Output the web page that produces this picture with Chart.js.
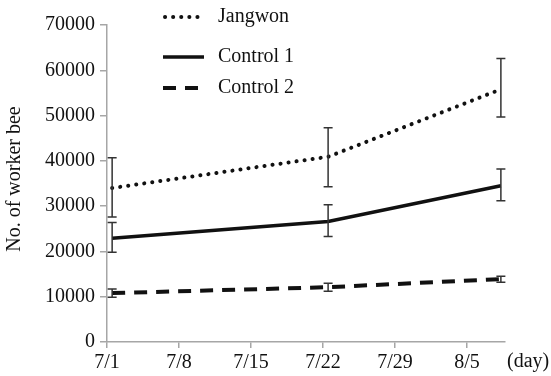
<!DOCTYPE html>
<html>
<head>
<meta charset="utf-8">
<script src="https://cdn.jsdelivr.net/npm/chart.js@4"></script>
<style>
  html, body { margin: 0; padding: 0; background: #fff; }
  #wrap { width: 551px; height: 376px; }
</style>
</head>
<body>
<div id="wrap"><canvas id="chart"></canvas></div>
<script>
"use strict";

// days since 7/1 of each survey
var days = [0.5, 21.5, 38.3];
var tickLabels = ["7/1", "7/8", "7/15", "7/22", "7/29", "8/5"];

var jangwon = [34000, 40900, 55800];
var jangwonLow = [27600, 34300, 49700];
var jangwonHigh = [40700, 47300, 62600];

var control1 = [22900, 26600, 34500];
var control1Low = [19800, 23300, 31200];
var control1High = [26400, 30300, 38200];

var control2 = [10800, 12100, 13900];
var control2Low = [9900, 11200, 13200];
var control2High = [11700, 13000, 14500];

var FONT = "'Liberation Serif', 'Times New Roman', serif";
var AXIS = "#a6a6a6";
var INK = "#111";

function pts(vals) {
  return vals.map(function (v, i) { return { x: days[i], y: v }; });
}

var errorBars = {
  id: "errorBars",
  afterDatasetsDraw: function (chart) {
    var ctx = chart.ctx;
    var xs = chart.scales.x, ys = chart.scales.y;
    ctx.save();
    ctx.strokeStyle = "#333";
    ctx.lineWidth = 1.5;
    chart.data.datasets.forEach(function (ds) {
      ds.low.forEach(function (lo, i) {
        var x = xs.getPixelForValue(days[i]);
        var y1 = ys.getPixelForValue(lo), y2 = ys.getPixelForValue(ds.high[i]);
        ctx.beginPath();
        ctx.moveTo(x, y1); ctx.lineTo(x, y2);
        ctx.moveTo(x - 4.5, y1); ctx.lineTo(x + 4.5, y1);
        ctx.moveTo(x - 4.5, y2); ctx.lineTo(x + 4.5, y2);
        ctx.stroke();
      });
    });
    ctx.restore();
  }
};

var extras = {
  id: "extras",
  afterDraw: function (chart) {
    var ctx = chart.ctx;
    ctx.save();
    ctx.fillStyle = INK;
    ctx.font = "20px " + FONT;
    // legend
    var rows = [
      { y: 17, text: "Jangwon", dash: [0.1, 8], w: 4 },
      { y: 57, text: "Control 1", dash: [], w: 3.5 },
      { y: 88, text: "Control 2", dash: [13, 9], w: 4 }
    ];
    rows.forEach(function (r) {
      ctx.beginPath();
      ctx.setLineDash(r.dash);
      ctx.lineCap = r.dash.length && r.dash[0] < 1 ? "round" : "butt";
      ctx.lineWidth = r.w;
      ctx.strokeStyle = INK;
      ctx.moveTo(r.dash[0] < 1 ? 165 : 163, r.y);
      ctx.lineTo(204, r.y);
      ctx.stroke();
      ctx.setLineDash([]);
      ctx.textBaseline = "middle";
      ctx.textAlign = "left";
      ctx.fillText(r.text, 218, r.y);
    });
    // x unit
    ctx.textAlign = "left";
    ctx.textBaseline = "middle";
    ctx.fillText("(day)", 507, 362);
    // y title
    ctx.translate(15, 179);
    ctx.rotate(-Math.PI / 2);
    ctx.textAlign = "center";
    ctx.fillText("No. of worker bee", 0, 0);
    ctx.restore();
  }
};

var lineBase = { fill: false, tension: 0, pointRadius: 0, borderColor: INK };

new Chart(document.getElementById("chart"), {
  type: "line",
  data: {
    datasets: [
      Object.assign({ label: "Jangwon", data: pts(jangwon), low: jangwonLow, high: jangwonHigh,
        borderWidth: 4, borderDash: [0.1, 8], borderCapStyle: "round" }, lineBase),
      Object.assign({ label: "Control 1", data: pts(control1), low: control1Low, high: control1High,
        borderWidth: 3.5 }, lineBase),
      Object.assign({ label: "Control 2", data: pts(control2), low: control2Low, high: control2High,
        borderWidth: 4, borderDash: [13, 9] }, lineBase)
    ]
  },
  options: {
    responsive: true, maintainAspectRatio: false, animation: false,
    layout: { padding: { top: 25, right: 46, left: 0, bottom: 0 } },
    plugins: { legend: { display: false }, tooltip: { enabled: false } },
    scales: {
      x: {
        type: "linear", min: 0, max: 38.7,
        afterFit: function (s) { s.height = 34; },
        border: { color: AXIS, width: 1.5 },
        grid: { drawOnChartArea: false, color: AXIS, tickLength: 6, lineWidth: 1.5 },
        ticks: {
          stepSize: 7, includeBounds: false, padding: 3, color: INK, maxRotation: 0,
          font: { family: FONT, size: 20 },
          callback: function (v) { return tickLabels[Math.round(v / 7)]; }
        }
      },
      y: {
        min: 0, max: 70000,
        afterFit: function (s) { s.width = 107; },
        border: { color: AXIS, width: 1.5 },
        grid: { drawOnChartArea: false, color: AXIS, tickLength: 7, lineWidth: 1.5 },
        ticks: {
          stepSize: 10000, padding: 5, color: INK, font: { family: FONT, size: 20 },
          callback: function (v) { return String(v); }
        }
      }
    }
  },
  plugins: [errorBars, extras]
});
</script>
</body>
</html>
